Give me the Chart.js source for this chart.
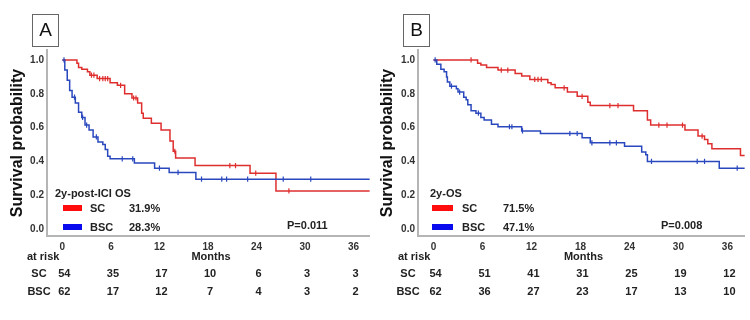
<!DOCTYPE html>
<html>
<head>
<meta charset="utf-8">
<script src="https://cdn.jsdelivr.net/npm/chart.js@4.4.1/dist/chart.umd.min.js"></script>
<style>
  html, body { margin: 0; padding: 0; background: #fff; }
  #wrap { position: relative; width: 750px; height: 320px; }
  .panel { position: absolute; top: 0; width: 375px; height: 320px; }
</style>
</head>
<body>
<div id="wrap">
  <div class="panel" style="left:0"><canvas id="chartA" width="375" height="320"></canvas></div>
  <div class="panel" style="left:375px"><canvas id="chartB" width="375" height="320"></canvas></div>
</div>
<script>
const FONT = '"Liberation Sans", Arial, sans-serif';

const monthTicks = [0, 6, 12, 18, 24, 30, 36];
const probTicks = [0, 0.2, 0.4, 0.6, 0.8, 1.0];
const groups = ['SC', 'BSC'];

// Panel A: 2y-post-ICI OS
const aTimesSC = [0, 1.8, 2.0, 2.4, 3.1, 3.4, 4.3, 5.9, 6.8, 7.7, 8.6, 9.3, 9.8, 10.0, 11.0, 12.2, 13.3, 13.7, 14.0, 16.4, 23.2, 26.4];
const aSurvSC  = [1.0, 0.98, 0.955, 0.945, 0.93, 0.91, 0.89, 0.865, 0.85, 0.80, 0.775, 0.745, 0.685, 0.655, 0.625, 0.585, 0.52, 0.46, 0.42, 0.375, 0.33, 0.225];
const aCensSC  = [3.6, 3.9, 4.6, 5.0, 5.3, 5.6, 7.2, 8.8, 9.1, 13.9, 20.7, 21.4, 23.9, 28.0];
const aTimesBSC = [0, 0.3, 0.6, 0.9, 1.2, 1.6, 2.0, 2.4, 2.8, 3.3, 3.8, 4.4, 5.0, 5.3, 5.6, 5.9, 8.9, 11.4, 13.2, 16.5];
const aSurvBSC  = [1.0, 0.94, 0.88, 0.82, 0.78, 0.745, 0.69, 0.66, 0.615, 0.585, 0.545, 0.515, 0.50, 0.47, 0.43, 0.415, 0.39, 0.36, 0.335, 0.295];
const aCensBSC  = [0.2, 1.5, 2.5, 3.0, 4.2, 7.4, 8.7, 12.0, 14.3, 17.2, 19.7, 20.3, 22.9, 27.3, 30.7];
const aRiskSC  = [54, 35, 17, 10, 6, 3, 3];
const aRiskBSC = [62, 17, 12, 7, 4, 3, 2];
const aPct = ['31.9%', '28.3%'];

// Panel B: 2y-OS
const bTimesSC = [0, 5.4, 5.8, 6.5, 7.9, 10.0, 10.8, 11.8, 14.0, 14.4, 14.9, 16.4, 17.6, 18.9, 19.2, 24.5, 26.2, 26.6, 30.8, 32.4, 33.2, 33.6, 34.1, 37.6];
const bSurvSC  = [1.0, 0.98, 0.97, 0.955, 0.94, 0.92, 0.905, 0.885, 0.865, 0.855, 0.835, 0.81, 0.785, 0.75, 0.73, 0.70, 0.645, 0.615, 0.585, 0.55, 0.53, 0.505, 0.475, 0.435];
const bCensSC  = [4.6, 8.3, 9.1, 12.4, 12.8, 13.2, 16.0, 18.2, 21.6, 22.6, 27.6, 28.6, 30.5, 32.9];
const bTimesBSC = [0, 0.4, 0.9, 1.3, 1.6, 1.7, 2.0, 2.8, 3.0, 3.7, 4.0, 4.2, 4.6, 5.2, 5.8, 6.2, 7.1, 7.9, 10.8, 13.1, 18.2, 19.2, 23.4, 25.5, 26.0, 26.2, 35.0];
const bSurvBSC  = [1.0, 0.975, 0.945, 0.93, 0.90, 0.87, 0.845, 0.83, 0.81, 0.78, 0.765, 0.735, 0.70, 0.685, 0.66, 0.645, 0.62, 0.605, 0.58, 0.565, 0.54, 0.51, 0.49, 0.455, 0.44, 0.40, 0.36];
const bCensBSC  = [0.2, 2.2, 3.2, 5.5, 9.3, 9.6, 10.9, 16.7, 17.6, 19.4, 21.6, 22.4, 26.7, 32.3, 33.2, 37.2];
const bRiskSC  = [54, 51, 41, 31, 25, 19, 12];
const bRiskBSC = [62, 36, 27, 23, 17, 13, 10];
const bPct = ['71.5%', '47.1%'];

const lineRed = 'rgb(222, 46, 46)';
const lineBlue = 'rgb(42, 72, 190)';
const swatchColors = ['#ff0d0d', '#0a0aee'];

// draws panel letter, legend, p-value, x title and the at-risk table
const panelText = {
  id: 'panelText',
  afterDraw(chart) {
    const p = chart.options.plugins.panelText;
    const c = chart.ctx;
    const xs = chart.scales.x;
    c.save();
    c.strokeStyle = '#666';
    c.lineWidth = 1;
    c.strokeRect(p.box[0] + 0.5, p.box[1] + 0.5, p.box[2], p.box[3]);
    c.fillStyle = '#111';
    c.font = '19px ' + FONT;
    c.textAlign = 'center';
    c.textBaseline = 'middle';
    c.fillText(p.letter, p.box[0] + p.box[2] / 2 + 0.5, p.box[1] + p.box[3] / 2 + 1);

    c.font = 'bold 11px ' + FONT;
    c.textAlign = 'left';
    c.fillStyle = '#222';
    c.fillText(p.legendTitle, p.legendX, 194);
    groups.forEach((g, i) => {
      const y = i === 0 ? 209 : 228;
      c.fillStyle = swatchColors[i];
      c.fillRect(p.swatchX, y - 4, p.swatchW, 6);
      c.fillStyle = '#222';
      c.fillText(g, p.labelX, y);
      c.fillText(p.pct[i], p.pctX, y);
    });
    c.fillText(p.pValue, p.pX, 226);

    c.textAlign = 'center';
    c.fillText('Months', xs.getPixelForValue(18) + 3, 257);
    c.textAlign = 'left';
    c.fillText('at risk', p.atRiskX, 257);
    c.textAlign = 'center';
    [p.riskSC, p.riskBSC].forEach((row, r) => {
      const y = r === 0 ? 274 : 292;
      c.fillText(groups[r], p.rowLabelX, y);
      row.forEach((n, i) => c.fillText(String(n), xs.getPixelForValue(monthTicks[i]) + 2, y));
    });
    c.restore();
  }
};

function renderKmPanel(canvasId, p) {
  const ctx = document.getElementById(canvasId);
  const stepData = (t, s) => t.map((x, i) => ({ x: x, y: s[i] })).concat([{ x: p.xMax, y: s[s.length - 1] }]);
  const survAt = (t, s, m) => {
    let v = s[0];
    t.forEach((ti, i) => { if (ti <= m) v = s[i]; });
    return v;
  };
  const censData = (t, s, cens) => cens.map(m => ({ x: m, y: survAt(t, s, m) }));
  const curve = (data, color) => ({
    type: 'line', data: data, borderColor: color, borderWidth: 1.5,
    stepped: true, pointRadius: 0, fill: false
  });
  const marks = (data, color) => ({
    type: 'scatter', data: data, borderColor: color, backgroundColor: color,
    pointStyle: 'line', rotation: 90, pointRadius: 2.6, borderWidth: 1.2, showLine: false
  });

  new Chart(ctx, {
    type: 'scatter',
    data: {
      datasets: [
        curve(stepData(p.tBSC, p.sBSC), lineBlue),
        curve(stepData(p.tSC, p.sSC), lineRed),
        marks(censData(p.tBSC, p.sBSC, p.cBSC), lineBlue),
        marks(censData(p.tSC, p.sSC, p.cSC), lineRed)
      ]
    },
    options: {
      responsive: false,
      animation: false,
      layout: { padding: { top: 50, right: p.padRight, left: 0, bottom: 0 } },
      scales: {
        x: {
          type: 'linear', min: p.xMin, max: p.xMax,
          afterBuildTicks: (s) => { s.ticks = monthTicks.map(v => ({ value: v })); },
          afterFit: (s) => { s.height = 84; },
          grid: { display: false, drawTicks: false },
          border: { color: '#b5b5b5', width: 2 },
          ticks: { font: { family: FONT, size: 10, weight: 'bold' }, color: '#333', padding: 5, maxRotation: 0 }
        },
        y: {
          min: -0.0414, max: 1.059,
          afterBuildTicks: (s) => { s.ticks = probTicks.map(v => ({ value: v })); },
          afterFit: (s) => { s.width = p.yWidth; },
          grid: { display: false, drawTicks: false },
          border: { color: '#b5b5b5', width: 2 },
          ticks: { font: { family: FONT, size: 10, weight: 'bold' }, color: '#333', padding: 3, callback: v => v.toFixed(1) },
          title: { display: true, text: 'Survival probability', color: '#111',
                   font: { family: FONT, size: 16, weight: 'bold' }, padding: { top: p.titlePad, bottom: 0 } }
        }
      },
      plugins: {
        legend: { display: false },
        tooltip: { enabled: false },
        panelText: p.text
      }
    },
    plugins: [panelText]
  });
}

renderKmPanel('chartA', {
  tSC: aTimesSC, sSC: aSurvSC, cSC: aCensSC,
  tBSC: aTimesBSC, sBSC: aSurvBSC, cBSC: aCensBSC,
  xMin: -1.9, xMax: 38.0, padRight: 2, yWidth: 47, titlePad: 8,
  text: {
    letter: 'A', box: [32, 14, 26, 32], legendTitle: '2y-post-ICI OS', pct: aPct, pValue: 'P=0.011',
    legendX: 55, swatchX: 63, swatchW: 19, labelX: 90, pctX: 129, pX: 287,
    atRiskX: 27, rowLabelX: 39, riskSC: aRiskSC, riskBSC: aRiskBSC
  }
});

renderKmPanel('chartB', {
  tSC: bTimesSC, sSC: bSurvSC, cSC: bCensSC,
  tBSC: bTimesBSC, sBSC: bSurvBSC, cBSC: bCensBSC,
  xMin: -1.9, xMax: 38.13, padRight: 5, yWidth: 43, titlePad: 3,
  text: {
    letter: 'B', box: [28, 14, 26, 32], legendTitle: '2y-OS', pct: bPct, pValue: 'P=0.008',
    legendX: 55, swatchX: 57, swatchW: 21, labelX: 87, pctX: 128, pX: 286,
    atRiskX: 23, rowLabelX: 33, riskSC: bRiskSC, riskBSC: bRiskBSC
  }
});
</script>
</body>
</html>
